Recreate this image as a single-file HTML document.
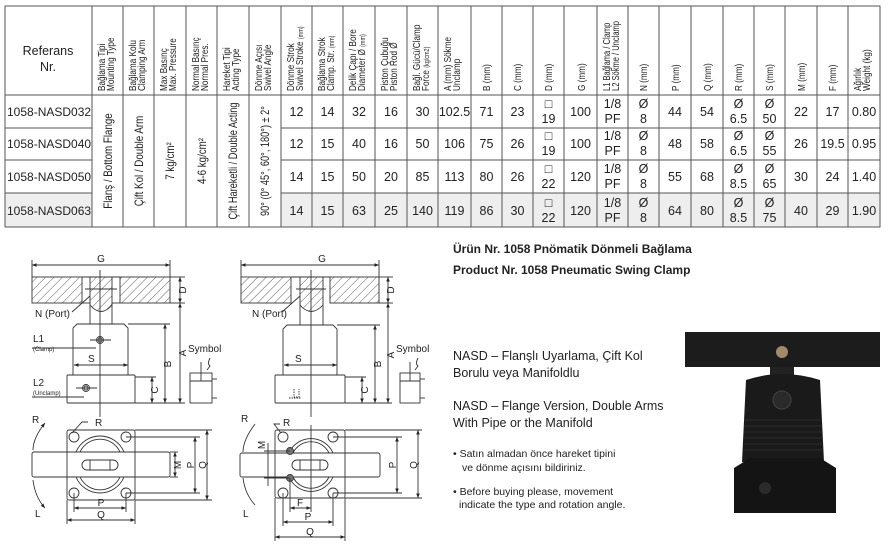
<!DOCTYPE html>
<html><head><meta charset="utf-8"><style>
html,body{margin:0;padding:0;background:#fff;}
svg{display:block;font-family:"Liberation Sans",sans-serif;}
</style></head><body>
<svg width="892" height="547" viewBox="0 0 892 547" xmlns="http://www.w3.org/2000/svg">
<defs>
<pattern id="h" width="6" height="6" patternUnits="userSpaceOnUse" patternTransform="rotate(45)">
<line x1="0" y1="0" x2="0" y2="6" stroke="#333" stroke-width="0.8"/></pattern>
<marker id="a" viewBox="0 0 10 10" refX="10" refY="5" markerWidth="5" markerHeight="5" orient="auto-start-reverse"><path d="M0,1 L10,5 L0,9 z" fill="#222"/></marker>
</defs>
<!-- TABLE -->
<g fill="#eee">
<rect x="5" y="193" width="87" height="34"/>
<rect x="281" y="193" width="599" height="34"/>
</g>
<g stroke="#555" stroke-width="1" fill="none">
<rect x="5" y="6" width="875" height="221"/>
<line x1="5" y1="95" x2="880" y2="95"/>
<line x1="5" y1="128" x2="92" y2="128"/><line x1="281" y1="128" x2="880" y2="128"/>
<line x1="5" y1="160" x2="92" y2="160"/><line x1="281" y1="160" x2="880" y2="160"/>
<line x1="5" y1="193" x2="92" y2="193"/><line x1="281" y1="193" x2="880" y2="193"/>
<path d="M92 6V227M123 6V227M154 6V227M186 6V227M217 6V227M249 6V227M281 6V227M312 6V227M343 6V227M375 6V227M407 6V227M438 6V227M471 6V227M502 6V227M533 6V227M564 6V227M597 6V227M628 6V227M659 6V227M691 6V227M723 6V227M754 6V227M785 6V227M817 6V227M848 6V227"/>
</g>
<g font-size="12.5" fill="#222" text-anchor="middle">
<text x="48" y="55">Referans</text><text x="48" y="71">Nr.</text>
</g>
<g font-size="10.5" fill="#222">
<g transform="translate(105,91) rotate(-90) scale(0.78,1)"><text x="0" y="0">Bağlama Tipi</text><text x="0" y="9">Mounting Type</text></g>
<g transform="translate(136,91) rotate(-90) scale(0.78,1)"><text x="0" y="0">Bağlama Kolu</text><text x="0" y="9">Clamping Arm</text></g>
<g transform="translate(167,91) rotate(-90) scale(0.78,1)"><text x="0" y="0">Max Basınç</text><text x="0" y="9">Max. Pressure</text></g>
<g transform="translate(199,91) rotate(-90) scale(0.78,1)"><text x="0" y="0">Normal Basınç</text><text x="0" y="9">Normal Pres.</text></g>
<g transform="translate(230,91) rotate(-90) scale(0.78,1)"><text x="0" y="0">Hareket Tipi</text><text x="0" y="9">Acting Type</text></g>
<g transform="translate(262,91) rotate(-90) scale(0.78,1)"><text x="0" y="0">Dönme Açısı</text><text x="0" y="9">Swivel Angle</text></g>
<g transform="translate(294,91) rotate(-90) scale(0.78,1)"><text x="0" y="0">Dönme Strok</text><text x="0" y="9">Swivel Stroke <tspan font-size="7">(mm)</tspan></text></g>
<g transform="translate(325,91) rotate(-90) scale(0.78,1)"><text x="0" y="0">Bağlama Strok</text><text x="0" y="9">Clamp. Str. <tspan font-size="7">(mm)</tspan></text></g>
<g transform="translate(356,91) rotate(-90) scale(0.78,1)"><text x="0" y="0">Delik Çapı / Bore</text><text x="0" y="9">Diameter Ø <tspan font-size="7">(mm)</tspan></text></g>
<g transform="translate(388,91) rotate(-90) scale(0.78,1)"><text x="0" y="0">Piston Çubuğu</text><text x="0" y="9">Piston Rod Ø</text></g>
<g transform="translate(420,91) rotate(-90) scale(0.78,1)"><text x="0" y="0">Bağl. Gücü/Clamp</text><text x="0" y="9">Force <tspan font-size="7">(kg/cm2)</tspan></text></g>
<g transform="translate(451,91) rotate(-90) scale(0.78,1)"><text x="0" y="0">A (mm) Sökme</text><text x="0" y="9">Unclamp</text></g>
<g transform="translate(490,91) rotate(-90) scale(0.78,1)"><text>B (mm)</text></g>
<g transform="translate(521,91) rotate(-90) scale(0.78,1)"><text>C (mm)</text></g>
<g transform="translate(552,91) rotate(-90) scale(0.78,1)"><text>D (mm)</text></g>
<g transform="translate(585,91) rotate(-90) scale(0.78,1)"><text>G (mm)</text></g>
<g transform="translate(610,91) rotate(-90) scale(0.72,1)"><text x="0" y="0">L1 Bağlama / Clamp</text><text x="0" y="9">L2 Sökme / Unclamp</text></g>
<g transform="translate(647,91) rotate(-90) scale(0.78,1)"><text>N (mm)</text></g>
<g transform="translate(679,91) rotate(-90) scale(0.78,1)"><text>P (mm)</text></g>
<g transform="translate(711,91) rotate(-90) scale(0.78,1)"><text>Q (mm)</text></g>
<g transform="translate(742,91) rotate(-90) scale(0.78,1)"><text>R (mm)</text></g>
<g transform="translate(773,91) rotate(-90) scale(0.78,1)"><text>S (mm)</text></g>
<g transform="translate(805,91) rotate(-90) scale(0.78,1)"><text>M (mm)</text></g>
<g transform="translate(836,91) rotate(-90) scale(0.78,1)"><text>F (mm)</text></g>
<g transform="translate(861,91) rotate(-90) scale(0.78,1)"><text x="0" y="0">Ağırlık</text><text x="0" y="9">Weight (kg)</text></g>
</g>
<g font-size="11.5" fill="#222" text-anchor="middle">
<g transform="translate(112,161) rotate(-90) scale(0.85,1)"><text>Flanş / Bottom Flange</text></g>
<g transform="translate(143,161) rotate(-90) scale(0.85,1)"><text>Çift Kol / Double Arm</text></g>
<g transform="translate(174,161) rotate(-90) scale(0.85,1)"><text>7 kg/cm²</text></g>
<g transform="translate(206,161) rotate(-90) scale(0.85,1)"><text>4-6 kg/cm²</text></g>
<g transform="translate(237,161) rotate(-90) scale(0.8,1)"><text>Çift Hareketli / Double Acting</text></g>
<g transform="translate(269,161) rotate(-90) scale(0.8,1)"><text>90° (0° 45°, 60°, 180°) ± 2°</text></g>
</g>
<g font-size="12" fill="#222">
<text x="7" y="116">1058-NASD032</text>
<text x="7" y="148">1058-NASD040</text>
<text x="7" y="181">1058-NASD050</text>
<text x="7" y="215">1058-NASD063</text>
</g>
<g font-size="12.5" fill="#222" text-anchor="middle">
<text x="296.5" y="116">12</text><text x="327.5" y="116">14</text><text x="359" y="116">32</text><text x="391" y="116">16</text><text x="422.5" y="116">30</text><text x="454.5" y="116">102.5</text><text x="486.5" y="116">71</text><text x="517.5" y="116">23</text><text x="548.5" y="108">□</text><text x="548.5" y="123">19</text><text x="580.5" y="116">100</text><text x="612.5" y="108">1/8</text><text x="612.5" y="123">PF</text><text x="643.5" y="108">Ø</text><text x="643.5" y="123">8</text><text x="675" y="116">44</text><text x="707" y="116">54</text><text x="738.5" y="108">Ø</text><text x="738.5" y="123">6.5</text><text x="769.5" y="108">Ø</text><text x="769.5" y="123">50</text><text x="801" y="116">22</text><text x="832.5" y="116">17</text><text x="864" y="116">0.80</text>
<text x="296.5" y="148">12</text><text x="327.5" y="148">15</text><text x="359" y="148">40</text><text x="391" y="148">16</text><text x="422.5" y="148">50</text><text x="454.5" y="148">106</text><text x="486.5" y="148">75</text><text x="517.5" y="148">26</text><text x="548.5" y="140">□</text><text x="548.5" y="155">19</text><text x="580.5" y="148">100</text><text x="612.5" y="140">1/8</text><text x="612.5" y="155">PF</text><text x="643.5" y="140">Ø</text><text x="643.5" y="155">8</text><text x="675" y="148">48</text><text x="707" y="148">58</text><text x="738.5" y="140">Ø</text><text x="738.5" y="155">6.5</text><text x="769.5" y="140">Ø</text><text x="769.5" y="155">55</text><text x="801" y="148">26</text><text x="832.5" y="148">19.5</text><text x="864" y="148">0.95</text>
<text x="296.5" y="181">14</text><text x="327.5" y="181">15</text><text x="359" y="181">50</text><text x="391" y="181">20</text><text x="422.5" y="181">85</text><text x="454.5" y="181">113</text><text x="486.5" y="181">80</text><text x="517.5" y="181">26</text><text x="548.5" y="173">□</text><text x="548.5" y="188">22</text><text x="580.5" y="181">120</text><text x="612.5" y="173">1/8</text><text x="612.5" y="188">PF</text><text x="643.5" y="173">Ø</text><text x="643.5" y="188">8</text><text x="675" y="181">55</text><text x="707" y="181">68</text><text x="738.5" y="173">Ø</text><text x="738.5" y="188">8.5</text><text x="769.5" y="173">Ø</text><text x="769.5" y="188">65</text><text x="801" y="181">30</text><text x="832.5" y="181">24</text><text x="864" y="181">1.40</text>
<text x="296.5" y="215">14</text><text x="327.5" y="215">15</text><text x="359" y="215">63</text><text x="391" y="215">25</text><text x="422.5" y="215">140</text><text x="454.5" y="215">119</text><text x="486.5" y="215">86</text><text x="517.5" y="215">30</text><text x="548.5" y="207">□</text><text x="548.5" y="222">22</text><text x="580.5" y="215">120</text><text x="612.5" y="207">1/8</text><text x="612.5" y="222">PF</text><text x="643.5" y="207">Ø</text><text x="643.5" y="222">8</text><text x="675" y="215">64</text><text x="707" y="215">80</text><text x="738.5" y="207">Ø</text><text x="738.5" y="222">8.5</text><text x="769.5" y="207">Ø</text><text x="769.5" y="222">75</text><text x="801" y="215">40</text><text x="832.5" y="215">29</text><text x="864" y="215">1.90</text>
</g>

<!-- DRAWING 1 -->
<g stroke="#333" stroke-width="0.9" fill="none">
<line x1="32" y1="265" x2="170" y2="265" marker-start="url(#a)" marker-end="url(#a)"/>
<line x1="32" y1="260" x2="32" y2="277"/><line x1="170" y1="260" x2="170" y2="277"/>
<rect x="32" y="277" width="50" height="26" fill="url(#h)"/>
<rect x="120" y="277" width="50" height="26" fill="url(#h)"/>
<line x1="82" y1="277" x2="120" y2="277"/><line x1="82" y1="303" x2="90" y2="303"/><line x1="112" y1="303" x2="120" y2="303"/>
<path d="M90 277 V305 Q101 318 112 305 V277 Z" fill="url(#h)"/>
<line x1="90" y1="303" x2="90" y2="324"/><line x1="112" y1="303" x2="112" y2="324"/>
<path d="M73 375 V328 L77 324 H124 L128 328 V375"/>
<rect x="67" y="375" width="68" height="28" rx="1"/>
<circle cx="100" cy="340" r="3.5"/><circle cx="100" cy="340" r="2"/>
<circle cx="86" cy="388" r="3.5"/><circle cx="86" cy="388" r="2"/>
<line x1="90" y1="340" x2="111" y2="340"/><line x1="76" y1="388" x2="97" y2="388"/>
<line x1="85" y1="289" x2="117" y2="289"/>
<line x1="100" y1="270" x2="100" y2="417"/>
<line x1="74" y1="365" x2="128" y2="365" marker-start="url(#a)" marker-end="url(#a)"/>
<line x1="170" y1="277" x2="185" y2="277"/><line x1="170" y1="303" x2="185" y2="303"/>
<line x1="180" y1="277" x2="180" y2="303" marker-start="url(#a)" marker-end="url(#a)"/>
<line x1="180" y1="303" x2="180" y2="403" marker-start="url(#a)" marker-end="url(#a)"/>
<line x1="128" y1="324" x2="170" y2="324"/>
<line x1="165" y1="324" x2="165" y2="403" marker-start="url(#a)" marker-end="url(#a)"/>
<line x1="135" y1="377" x2="156" y2="377"/>
<line x1="152" y1="377" x2="152" y2="403" marker-start="url(#a)" marker-end="url(#a)"/>
<line x1="135" y1="403" x2="185" y2="403"/>
<rect x="190" y="373" width="22" height="30"/><line x1="190" y1="381" x2="212" y2="381"/>
<line x1="201" y1="362" x2="201" y2="381"/><line x1="212" y1="379" x2="217" y2="379"/><line x1="212" y1="398" x2="217" y2="398"/>
<path d="M210 358 q-3 6 0 8 l-3 4"/>
<line x1="72" y1="312" x2="90" y2="296"/>
<line x1="32" y1="348" x2="96" y2="348"/><line x1="32" y1="397" x2="84" y2="397"/>
<rect x="67" y="430" width="68" height="70" rx="2"/>
<rect x="32" y="452" width="138" height="25" rx="2"/>
<path d="M76 452 A26 26 0 0 1 124 452"/><path d="M80 452 A22 22 0 0 1 120 452"/>
<path d="M76 477 A26 26 0 0 0 124 477"/><path d="M80 477 A22 22 0 0 0 120 477"/>
<rect x="82" y="460" width="36" height="10" rx="5"/><line x1="90" y1="460" x2="90" y2="470"/><line x1="110" y1="460" x2="110" y2="470"/>
<circle cx="74" cy="437" r="5"/><circle cx="126" cy="437" r="5"/><circle cx="74" cy="493" r="5"/><circle cx="126" cy="493" r="5"/>
<line x1="126" y1="437" x2="200" y2="437"/><line x1="126" y1="493" x2="200" y2="493"/>
<line x1="135" y1="430" x2="212" y2="430"/><line x1="135" y1="500" x2="212" y2="500"/>
<line x1="170" y1="452" x2="178" y2="452"/><line x1="170" y1="477" x2="178" y2="477"/>
<line x1="175" y1="452" x2="175" y2="477" marker-start="url(#a)" marker-end="url(#a)"/>
<line x1="195" y1="437" x2="195" y2="493" marker-start="url(#a)" marker-end="url(#a)"/>
<line x1="207" y1="430" x2="207" y2="500" marker-start="url(#a)" marker-end="url(#a)"/>
<line x1="74" y1="493" x2="74" y2="512"/><line x1="126" y1="493" x2="126" y2="512"/>
<line x1="74" y1="508" x2="126" y2="508" marker-start="url(#a)" marker-end="url(#a)"/>
<line x1="67" y1="500" x2="67" y2="524"/><line x1="135" y1="500" x2="135" y2="524"/>
<line x1="67" y1="520" x2="135" y2="520" marker-start="url(#a)" marker-end="url(#a)"/>
<path d="M45 423 Q33 438 33 450" marker-start="url(#a)"/>
<path d="M33 480 Q35 497 45 508" marker-end="url(#a)"/>
<path d="M72 433 L82 422 H88"/>
</g>
<g font-size="10" fill="#222">
<text x="101" y="262" text-anchor="middle">G</text>
<text x="35" y="317">N (Port)</text>
<text x="33" y="342">L1</text><text x="33" y="351" font-size="6">(Clamp)</text>
<text x="33" y="386">L2</text><text x="33" y="395" font-size="6">(Unclamp)</text>
<text x="88" y="362">S</text>
<text x="188" y="352">Symbol</text>
<text x="95" y="426">R</text>
<text x="32" y="423">R</text><text x="35" y="517">L</text>
<text x="101" y="506" text-anchor="middle">P</text>
<text x="101" y="518" text-anchor="middle">Q</text>
<g transform="translate(186,290) rotate(-90)"><text text-anchor="middle">D</text></g>
<g transform="translate(186,353) rotate(-90)"><text text-anchor="middle">A</text></g>
<g transform="translate(171,364) rotate(-90)"><text text-anchor="middle">B</text></g>
<g transform="translate(158,390) rotate(-90)"><text text-anchor="middle">C</text></g>
<g transform="translate(181,465) rotate(-90)"><text text-anchor="middle">M</text></g>
<g transform="translate(194,465) rotate(-90)"><text text-anchor="middle">P</text></g>
<g transform="translate(206,465) rotate(-90)"><text text-anchor="middle">Q</text></g>
</g>

<!-- DRAWING 2 -->
<g stroke="#333" stroke-width="0.9" fill="none">
<line x1="241" y1="265" x2="379" y2="265" marker-start="url(#a)" marker-end="url(#a)"/>
<line x1="241" y1="260" x2="241" y2="277"/><line x1="379" y1="260" x2="379" y2="277"/>
<rect x="241" y="277" width="50" height="26" fill="url(#h)"/>
<rect x="330" y="277" width="49" height="26" fill="url(#h)"/>
<line x1="291" y1="277" x2="330" y2="277"/>
<path d="M300 277 V305 Q311 318 323 305 V277 Z" fill="url(#h)"/>
<line x1="300" y1="303" x2="300" y2="325"/><line x1="323" y1="303" x2="323" y2="325"/>
<path d="M283 375 V329 L287 325 H333 L337 329 V375"/>
<rect x="275" y="375" width="70" height="28" rx="1"/>
<path d="M294 389 v8 h5 v-8 M289 398 h12" stroke-dasharray="1.5 1"/>
<line x1="296" y1="289" x2="326" y2="289"/>
<line x1="311" y1="270" x2="311" y2="417"/>
<line x1="284" y1="365" x2="337" y2="365" marker-start="url(#a)" marker-end="url(#a)"/>
<line x1="379" y1="277" x2="393" y2="277"/><line x1="379" y1="303" x2="393" y2="303"/>
<line x1="388" y1="277" x2="388" y2="303" marker-start="url(#a)" marker-end="url(#a)"/>
<line x1="388" y1="303" x2="388" y2="403" marker-start="url(#a)" marker-end="url(#a)"/>
<line x1="337" y1="325" x2="380" y2="325"/>
<line x1="375" y1="325" x2="375" y2="403" marker-start="url(#a)" marker-end="url(#a)"/>
<line x1="345" y1="377" x2="366" y2="377"/>
<line x1="362" y1="377" x2="362" y2="403" marker-start="url(#a)" marker-end="url(#a)"/>
<line x1="345" y1="403" x2="392" y2="403"/>
<rect x="400" y="373" width="20" height="30"/><line x1="400" y1="381" x2="420" y2="381"/>
<line x1="410" y1="362" x2="410" y2="381"/><line x1="420" y1="379" x2="425" y2="379"/><line x1="420" y1="398" x2="425" y2="398"/>
<path d="M418 358 q-3 6 0 8 l-3 4"/>
<line x1="282" y1="312" x2="300" y2="296"/>
<rect x="275" y="430" width="70" height="68" rx="2"/>
<rect x="240" y="453" width="140" height="24" rx="2"/>
<path d="M289 453 A24 24 0 0 1 333 453"/><path d="M293 453 A20 20 0 0 1 329 453"/>
<path d="M289 477 A24 24 0 0 0 333 477"/><path d="M293 477 A20 20 0 0 0 329 477"/>
<rect x="292" y="460" width="36" height="10" rx="5"/><line x1="300" y1="460" x2="300" y2="470"/><line x1="320" y1="460" x2="320" y2="470"/>
<circle cx="283" cy="437" r="5"/><circle cx="333" cy="437" r="5"/><circle cx="283" cy="493" r="5"/><circle cx="333" cy="493" r="5"/>
<circle cx="290" cy="451" r="3.5" fill="#777"/><circle cx="290" cy="478" r="3.5" fill="#777"/>
<line x1="311" y1="425" x2="311" y2="512"/>
<line x1="333" y1="437" x2="402" y2="437"/><line x1="333" y1="493" x2="402" y2="493"/>
<line x1="345" y1="430" x2="422" y2="430"/><line x1="345" y1="498" x2="422" y2="498"/>
<line x1="397" y1="437" x2="397" y2="493" marker-start="url(#a)" marker-end="url(#a)"/>
<line x1="418" y1="430" x2="418" y2="498" marker-start="url(#a)" marker-end="url(#a)"/>
<line x1="264" y1="451" x2="290" y2="451"/><line x1="264" y1="478" x2="290" y2="478"/>
<line x1="268" y1="443" x2="268" y2="486"/>
<line x1="290" y1="478" x2="290" y2="512"/>
<line x1="290" y1="508" x2="311" y2="508" marker-start="url(#a)" marker-end="url(#a)"/>
<line x1="283" y1="493" x2="283" y2="526"/><line x1="333" y1="493" x2="333" y2="526"/>
<line x1="283" y1="522" x2="333" y2="522" marker-start="url(#a)" marker-end="url(#a)"/>
<line x1="275" y1="498" x2="275" y2="541"/><line x1="345" y1="498" x2="345" y2="541"/>
<line x1="275" y1="537" x2="345" y2="537" marker-start="url(#a)" marker-end="url(#a)"/>
<path d="M255 424 Q243 440 243 452"/>
<path d="M243 478 Q245 494 255 505"/>
<path d="M281 433 L274 424 H280"/>
</g>
<g font-size="10" fill="#222">
<text x="322" y="262" text-anchor="middle">G</text>
<text x="252" y="317">N (Port)</text>
<text x="295" y="362">S</text>
<text x="396" y="352">Symbol</text>
<text x="283" y="426">R</text>
<text x="241" y="422">R</text><text x="243" y="517">L</text>
<text x="300" y="506" text-anchor="middle">F</text>
<text x="308" y="520" text-anchor="middle">P</text>
<text x="310" y="535" text-anchor="middle">Q</text>
<g transform="translate(394,290) rotate(-90)"><text text-anchor="middle">D</text></g>
<g transform="translate(394,355) rotate(-90)"><text text-anchor="middle">A</text></g>
<g transform="translate(381,364) rotate(-90)"><text text-anchor="middle">B</text></g>
<g transform="translate(368,390) rotate(-90)"><text text-anchor="middle">C</text></g>
<g transform="translate(265,445) rotate(-90)"><text text-anchor="middle">M</text></g>
<g transform="translate(396,465) rotate(-90)"><text text-anchor="middle">P</text></g>
<g transform="translate(417,465) rotate(-90)"><text text-anchor="middle">Q</text></g>
</g>

<!-- RIGHT TEXT -->
<g fill="#222">
<text x="453" y="253" font-size="12" font-weight="bold">Ürün Nr. 1058 Pnömatik Dönmeli Bağlama</text>
<text x="453" y="274" font-size="12" font-weight="bold">Product Nr. 1058 Pneumatic Swing Clamp</text>
<text x="453" y="360" font-size="12.5">NASD – Flanşlı Uyarlama, Çift Kol</text>
<text x="453" y="377" font-size="12.5">Borulu veya Manifoldlu</text>
<text x="453" y="410" font-size="12.5">NASD – Flange Version, Double Arms</text>
<text x="453" y="427" font-size="12.5">With Pipe or the Manifold</text>
<text x="453" y="457" font-size="10.5">•  Satın almadan önce hareket tipini</text>
<text x="462" y="471" font-size="10.5">ve dönme açısını bildiriniz.</text>
<text x="453" y="495" font-size="10.5">•  Before buying please, movement</text>
<text x="459" y="508" font-size="10.5">indicate the type and rotation angle.</text>
</g>
<!-- PHOTO -->
<g>
<rect x="685" y="332" width="195" height="35" fill="#1c1c1c"/>
<circle cx="782" cy="352" r="6" fill="#a08a6a"/>
<rect x="770" y="367" width="24" height="10" fill="#222"/>
<path d="M746 380 Q782 368 820 380 L824 462 H742 Z" fill="#1a1a1a"/>
<g stroke="#333" stroke-width="0.8">
<line x1="744" y1="420" x2="822" y2="420"/><line x1="744" y1="426" x2="822" y2="426"/><line x1="744" y1="432" x2="822" y2="432"/><line x1="744" y1="438" x2="822" y2="438"/><line x1="744" y1="444" x2="822" y2="444"/><line x1="744" y1="450" x2="822" y2="450"/>
</g>
<circle cx="782" cy="400" r="9" fill="#2a2a2a" stroke="#444"/>
<path d="M734 468 L750 458 H820 L836 468 V513 H734 Z" fill="#141414"/>
<circle cx="765" cy="488" r="6" fill="#2b2b2b"/>
</g>
</svg>
</body></html>
